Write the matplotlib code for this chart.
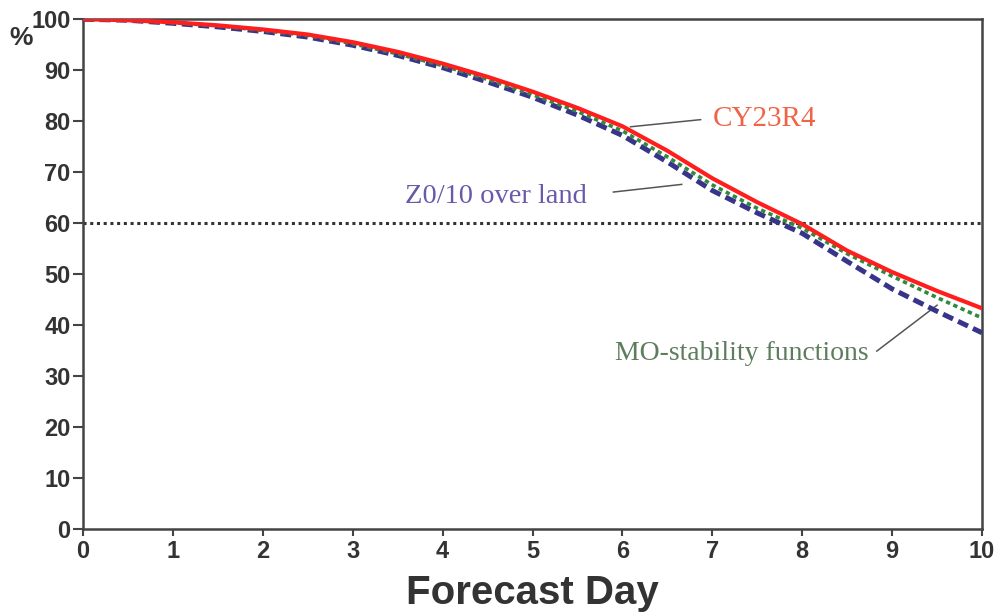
import matplotlib
matplotlib.use("Agg")
import matplotlib.pyplot as plt
import numpy as np

# forecast day and percentage for each experiment
days = [0, 0.5, 1, 1.5, 2, 2.5, 3, 3.5, 4, 4.5, 5,
        5.5, 6, 6.5, 7, 7.5, 8, 8.5, 9, 9.5, 10]
cy23r4 = [100, 99.8, 99.4, 98.8, 98.0, 97.0, 95.5, 93.6, 91.3, 88.7, 85.8,
          82.6, 79.0, 74.2, 68.8, 64.1, 59.8, 54.6, 50.4, 46.7, 43.3]
mo_stab = [100, 99.8, 99.3, 98.7, 97.8, 96.8, 95.2, 93.2, 90.9, 88.2, 85.2,
           81.9, 78.1, 73.0, 67.5, 62.9, 59.0, 54.0, 49.6, 45.4, 41.4]
z0_land = [100, 99.8, 99.2, 98.5, 97.6, 96.5, 94.9, 92.9, 90.5, 87.7, 84.7,
           81.2, 77.2, 72.0, 66.4, 62.0, 58.0, 52.5, 47.1, 42.7, 38.5]
threshold = 60

xticks = list(range(0, 11))
yticks = list(range(0, 101, 10))

fig = plt.figure(figsize=(10, 6.12), dpi=100)
ax = fig.add_axes([0.083, 0.1356, 0.899, 0.833])

ax.plot(days, [threshold] * len(days), color="#333333", lw=2.2,
        linestyle=(0, (1, 1.2)), zorder=2)
ax.plot(days, z0_land, color="#38348a", lw=3.6, linestyle=(0, (2.2, 1.1)),
        zorder=3)
ax.plot(days, mo_stab, color="#2f8a3c", lw=2.6, linestyle=(0, (1.2, 1.0)),
        zorder=4)
ax.plot(days, cy23r4, color="#ff1e1e", lw=3.0, zorder=5)

ax.set_xlim(0, 10)
ax.set_ylim(0, 100)
ax.set_xticks(xticks)
ax.set_yticks(yticks)

tick_font = dict(family="Liberation Sans", weight="bold", size=17)
ax.set_xticklabels([str(v) for v in xticks], fontdict=tick_font, color="#333333")
ax.set_yticklabels([str(v) for v in yticks], fontdict=tick_font, color="#333333")
ax.tick_params(axis="y", direction="out", length=7, width=1.5, pad=2,
               color="#444444")
ax.tick_params(axis="x", direction="out", length=5, width=1.5, pad=3,
               color="#444444")
for sp in ax.spines.values():
    sp.set_color("#444444")
    sp.set_linewidth(1.8)

ax.set_xlabel("Forecast Day", family="Liberation Sans", weight="bold",
              size=29, color="#333333", labelpad=8)
fig.text(0.009, 0.938, "%", family="Liberation Sans", weight="bold",
         size=19, color="#333333", ha="left", va="center")

# curve labels with leader lines
serif = "Liberation Serif"
ax.text(7.0, 80.5, "CY23R4", family=serif, size=21, color="#ef6446",
        ha="left", va="center")
ax.plot([6.09, 6.87], [78.9, 80.3], color="#555555", lw=1.1)

ax.text(3.58, 65.3, "Z0/10 over land", family=serif, size=20.5,
        color="#6a58aa", ha="left", va="center")
ax.plot([5.9, 6.66], [66.1, 67.6], color="#555555", lw=1.1)

ax.text(5.92, 34.5, "MO-stability functions", family=serif, size=20,
        color="#5e7d5e", ha="left", va="center")
ax.plot([8.83, 9.5], [34.9, 43.9], color="#555555", lw=1.1)

fig.savefig("out.png", dpi=100, facecolor="white")
